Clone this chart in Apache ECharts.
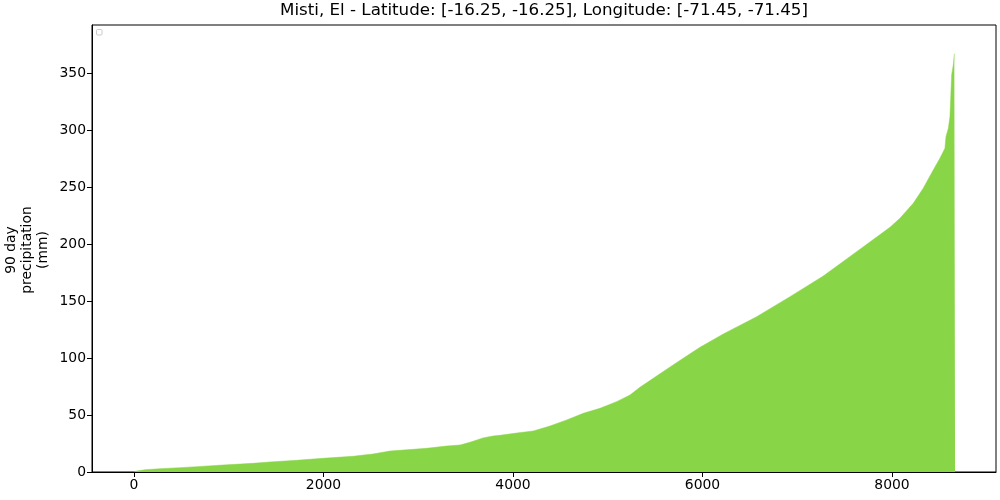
<!DOCTYPE html>
<html>
<head>
<meta charset="utf-8">
<script src="https://cdn.jsdelivr.net/npm/echarts@6/dist/echarts.min.js"></script>
<style>html,body{margin:0;padding:0;background:#fff;}#c{width:1000px;height:500px;}</style>
</head>
<body>
<div id="c"></div>
<script>
// Sorted 90-day precipitation (rank index -> mm)
var rankIndex = [0, 30, 116, 274, 485, 662, 939, 1256, 1435, 1717, 1995, 2311, 2522, 2702, 3089, 3300, 3441, 3546, 3683, 3789, 3863, 4039, 4214, 4391, 4567, 4742, 4918, 5094, 5235, 5340, 5481, 5622, 5797, 5974, 6220, 6572, 6924, 7275, 7627, 7979, 8084, 8225, 8330, 8436, 8506, 8559, 8570, 8595, 8612, 8630, 8647, 8658, 8666];
var precipMM = [0.2, 0.9, 2.0, 2.9, 3.8, 4.7, 6.1, 7.6, 8.8, 10.3, 12.0, 13.8, 15.8, 18.4, 20.8, 22.8, 23.7, 26.1, 29.9, 31.6, 32.2, 34.2, 36.0, 40.4, 45.7, 51.5, 55.9, 61.8, 67.6, 74.4, 82.3, 90.2, 99.9, 109.5, 121.2, 136.4, 154.0, 172.1, 193.5, 214.9, 222.8, 236.0, 249.2, 265.2, 275.5, 284.3, 294.5, 301.9, 312.1, 348.7, 357.5, 367.1, 367.1];
var xTicks = [0, 2000, 4000, 6000, 8000];
var yTicks = [0, 50, 100, 150, 200, 250, 300, 350];
var titleText = 'Misti, El - Latitude: [-16.25, -16.25], Longitude: [-71.45, -71.45]';
var yLabel = '90 day\nprecipitation\n(mm)';

var seriesData = rankIndex.map(function (x, i) { return [x, precipMM[i]]; });
var FONT = 'DejaVu Sans';

var chart = echarts.init(document.getElementById('c'));
chart.setOption({
  animation: false,
  backgroundColor: '#fff',
  grid: { left: 92, right: 4, top: 25, bottom: 28, show: true, borderColor: '#000', borderWidth: 1, backgroundColor: 'transparent' },
  xAxis: {
    type: 'value', min: -443, max: 9098,
    splitLine: { show: false },
    axisLine: { show: true, onZero: false, lineStyle: { color: '#000', width: 1 } },
    axisTick: { show: true, inside: false, length: 5, lineStyle: { color: '#000' }, customValues: xTicks },
    axisLabel: { customValues: xTicks, color: '#000', fontFamily: FONT, fontSize: 13.9, margin: 6,
      formatter: function (v) { return String(v); } }
  },
  yAxis: {
    type: 'value', min: 0, max: 392.6,
    splitLine: { show: false },
    axisLine: { show: true, onZero: false, lineStyle: { color: '#000', width: 1 } },
    axisTick: { show: true, inside: false, length: 5, lineStyle: { color: '#000' }, customValues: yTicks },
    axisLabel: { customValues: yTicks, color: '#000', fontFamily: FONT, fontSize: 13.9, margin: 6,
      formatter: function (v) { return String(v); } }
  },
  series: [{
    type: 'line',
    data: seriesData,
    showSymbol: false,
    symbol: 'none',
    lineStyle: { width: 0.5, color: '#89d548' },
    areaStyle: { color: '#89d548', opacity: 1 },
    z: 1
  }],
  graphic: [
    {
      type: 'text', x: 544, y: 11,
      style: { text: titleText, fontFamily: FONT, fontSize: 16.7, align: 'center', verticalAlign: 'middle', fill: '#000' }
    },
    {
      type: 'text', x: 27, y: 250, rotation: Math.PI / 2,
      style: { text: yLabel, fontFamily: FONT, fontSize: 13.9, lineHeight: 16, align: 'center', verticalAlign: 'middle', fill: '#000' }
    },
    {
      type: 'rect', shape: { x: 96.5, y: 29.5, width: 5.5, height: 5.5, r: 1 },
      style: { fill: '#fff', stroke: '#cccccc', lineWidth: 1 }
    }
  ]
});
</script>
</body>
</html>
